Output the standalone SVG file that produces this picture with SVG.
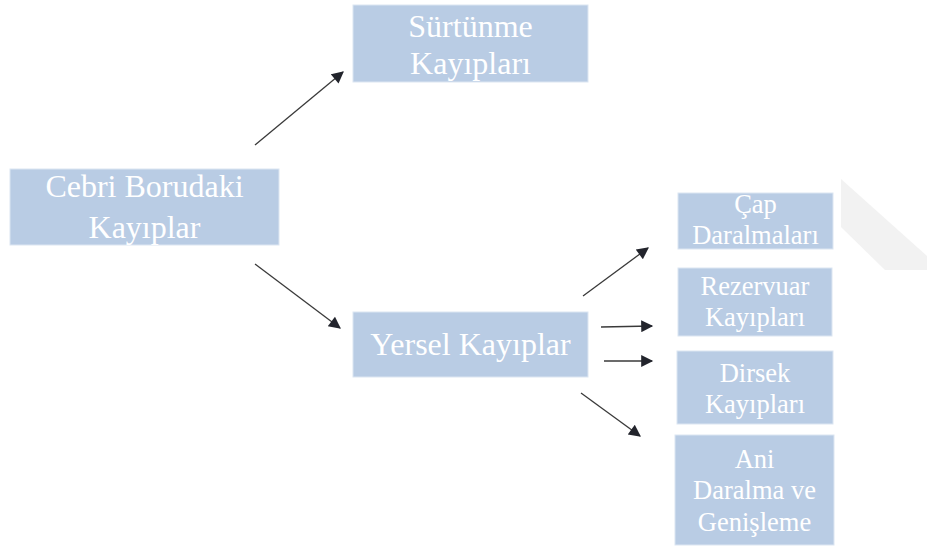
<svg xmlns="http://www.w3.org/2000/svg" width="927" height="546" viewBox="0 0 927 546">
<defs>
<style>
.box{fill:#b9cce4;stroke:#dce6f2;stroke-width:1}
.t{fill:#ffffff;text-anchor:middle}
.big{font-size:32px}
.sm{font-size:26.5px}
.c{stroke:#3a3a3a;stroke-width:1.3;fill:none;marker-end:url(#ah)}
</style>
<marker id="ah" viewBox="0 0 10 10" refX="9" refY="5" markerWidth="14" markerHeight="12" markerUnits="userSpaceOnUse" orient="auto">
<path d="M0,0 L10,5 L0,10 Z" fill="#22242c"/>
</marker>
</defs>
<rect width="927" height="546" fill="#ffffff"/>
<polygon points="841,179 927,256 927,270 885,270 841,227" fill="#f2f2f2"/>
<g id="connectors">
<line class="c" x1="255" y1="145" x2="343" y2="72"/>
<line class="c" x1="255" y1="264" x2="340" y2="328"/>
<line class="c" x1="583" y1="296" x2="648" y2="248"/>
<line class="c" x1="601" y1="327" x2="652" y2="326"/>
<line class="c" x1="604" y1="361" x2="652" y2="361"/>
<line class="c" x1="581" y1="393" x2="640" y2="436"/>
</g>
<g font-family="Liberation Serif, Times New Roman, serif">
<g id="n-surtunme">
<rect class="box" x="353" y="5" width="235" height="77"/>
<text class="t big" x="470.5" y="37">Sürtünme</text>
<text class="t big" x="470.5" y="74">Kayıpları</text>
</g>
<g id="n-cebri">
<rect class="box" x="10" y="169" width="269" height="76"/>
<text class="t big" x="144.5" y="197">Cebri Borudaki</text>
<text class="t big" x="144.5" y="238">Kayıplar</text>
</g>
<g id="n-yersel">
<rect class="box" x="353" y="312" width="235" height="65"/>
<text class="t big" x="470.5" y="355">Yersel Kayıplar</text>
</g>
<g id="n-cap">
<rect class="box" x="678" y="193" width="155" height="56"/>
<text class="t sm" x="755.5" y="213">Çap</text>
<text class="t sm" x="755.5" y="244">Daralmaları</text>
</g>
<g id="n-rezervuar">
<rect class="box" x="678" y="268" width="154" height="68"/>
<text class="t sm" x="755" y="295">Rezervuar</text>
<text class="t sm" x="755" y="326">Kayıpları</text>
</g>
<g id="n-dirsek">
<rect class="box" x="677" y="351" width="156" height="73"/>
<text class="t sm" x="755" y="382">Dirsek</text>
<text class="t sm" x="755" y="413">Kayıpları</text>
</g>
<g id="n-ani">
<rect class="box" x="675" y="435" width="159" height="110"/>
<text class="t sm" x="754.5" y="468">Ani</text>
<text class="t sm" x="754.5" y="499">Daralma ve</text>
<text class="t sm" x="754.5" y="531">Genişleme</text>
</g>
</g>
</svg>
